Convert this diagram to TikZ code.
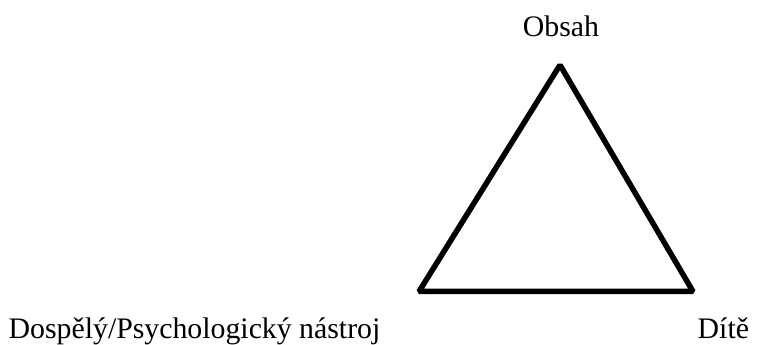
\documentclass[tikz,border=0pt]{standalone}
\usepackage{fontspec}
\setmainfont{Liberation Serif}
\begin{document}
\begin{tikzpicture}[x=1pt,y=1pt,
  lbl/.style={inner sep=0pt,font=\fontsize{29.8}{35}\selectfont},
  tri/.style={line width=5.5pt,line join=bevel}]
\useasboundingbox (0,0) rectangle (761,345);
\coordinate (top) at (560,280);
\coordinate (bl) at (419,53.5);
\coordinate (br) at (693,53.5);
\draw[tri] (top) -- (bl) -- (br) -- cycle;
\node[lbl,anchor=base] (obsah) at (561,308) {Obsah};
\node[lbl,anchor=base west] (dosp) at (8.5,6) {Dospělý/Psychologický nástroj};
\node[lbl,anchor=base west] (dite) at (697.5,6) {Dítě};
\end{tikzpicture}
\end{document}
